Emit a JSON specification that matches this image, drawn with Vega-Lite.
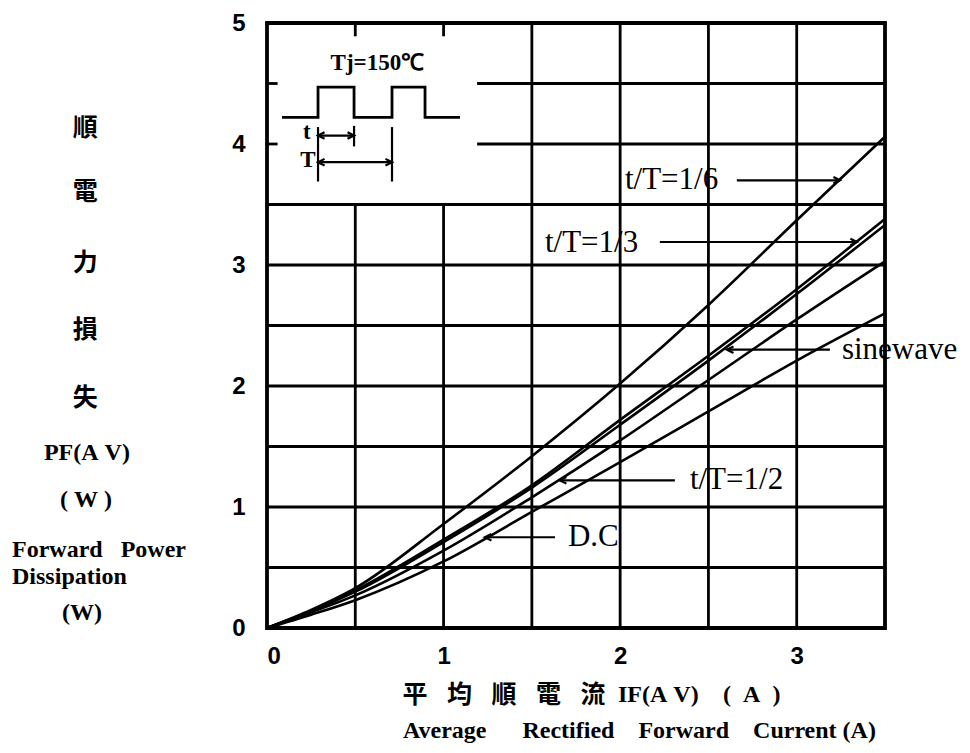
{
  "$schema": "https://vega.github.io/schema/vega-lite/v6.json",
  "width": 618,
  "height": 605,
  "autosize": "none",
  "padding": {"left": 267, "top": 23, "right": 85, "bottom": 125},
  "background": "white",
  "config": {"view": {"stroke": "black", "strokeWidth": 3.8}},
  "datasets": {
    "curves": [
      {"series": "t/T=1/6", "x": 0, "y": 0}, {"series": "t/T=1/6", "x": 0.25, "y": 0.15}, {"series": "t/T=1/6", "x": 0.5, "y": 0.33}, {"series": "t/T=1/6", "x": 1, "y": 0.86}, {"series": "t/T=1/6", "x": 1.5, "y": 1.42}, {"series": "t/T=1/6", "x": 2, "y": 2.02}, {"series": "t/T=1/6", "x": 2.5, "y": 2.67}, {"series": "t/T=1/6", "x": 3, "y": 3.37}, {"series": "t/T=1/6", "x": 3.5, "y": 4.06},
      {"series": "t/T=1/3", "x": 0, "y": 0}, {"series": "t/T=1/3", "x": 0.25, "y": 0.14}, {"series": "t/T=1/3", "x": 0.5, "y": 0.31}, {"series": "t/T=1/3", "x": 1, "y": 0.73}, {"series": "t/T=1/3", "x": 1.5, "y": 1.18}, {"series": "t/T=1/3", "x": 2, "y": 1.72}, {"series": "t/T=1/3", "x": 2.5, "y": 2.25}, {"series": "t/T=1/3", "x": 3, "y": 2.8}, {"series": "t/T=1/3", "x": 3.5, "y": 3.38},
      {"series": "sinewave", "x": 0, "y": 0}, {"series": "sinewave", "x": 0.25, "y": 0.14}, {"series": "sinewave", "x": 0.5, "y": 0.3}, {"series": "sinewave", "x": 1, "y": 0.71}, {"series": "sinewave", "x": 1.5, "y": 1.16}, {"series": "sinewave", "x": 2, "y": 1.68}, {"series": "sinewave", "x": 2.5, "y": 2.21}, {"series": "sinewave", "x": 3, "y": 2.76}, {"series": "sinewave", "x": 3.5, "y": 3.33},
      {"series": "t/T=1/2", "x": 0, "y": 0}, {"series": "t/T=1/2", "x": 0.25, "y": 0.13}, {"series": "t/T=1/2", "x": 0.5, "y": 0.27}, {"series": "t/T=1/2", "x": 1, "y": 0.64}, {"series": "t/T=1/2", "x": 1.5, "y": 1.08}, {"series": "t/T=1/2", "x": 2, "y": 1.55}, {"series": "t/T=1/2", "x": 2.5, "y": 2.05}, {"series": "t/T=1/2", "x": 3, "y": 2.55}, {"series": "t/T=1/2", "x": 3.5, "y": 3.03},
      {"series": "D.C", "x": 0, "y": 0}, {"series": "D.C", "x": 0.25, "y": 0.11}, {"series": "D.C", "x": 0.5, "y": 0.23}, {"series": "D.C", "x": 1, "y": 0.55}, {"series": "D.C", "x": 1.5, "y": 0.96}, {"series": "D.C", "x": 2, "y": 1.37}, {"series": "D.C", "x": 2.5, "y": 1.79}, {"series": "D.C", "x": 3, "y": 2.21}, {"series": "D.C", "x": 3.5, "y": 2.6}
    ],
    "grid": [
      {"x": 0.5, "y": 0, "x2": 0.5, "y2": 3.5}, {"x": 0.5, "y": 5, "x2": 0.5, "y2": 4.89},
      {"x": 1, "y": 0, "x2": 1, "y2": 3.5}, {"x": 1, "y": 5, "x2": 1, "y2": 4.89},
      {"x": 1.5, "y": 0, "x2": 1.5, "y2": 5}, {"x": 2, "y": 0, "x2": 2, "y2": 5},
      {"x": 2.5, "y": 0, "x2": 2.5, "y2": 5}, {"x": 3, "y": 0, "x2": 3, "y2": 5},
      {"x": 0, "y": 0.5, "x2": 3.5, "y2": 0.5}, {"x": 0, "y": 1, "x2": 3.5, "y2": 1},
      {"x": 0, "y": 1.5, "x2": 3.5, "y2": 1.5}, {"x": 0, "y": 2, "x2": 3.5, "y2": 2},
      {"x": 0, "y": 2.5, "x2": 3.5, "y2": 2.5}, {"x": 0, "y": 3, "x2": 3.5, "y2": 3},
      {"x": 0, "y": 3.5, "x2": 3.5, "y2": 3.5},
      {"x": 1.19, "y": 4, "x2": 3.5, "y2": 4}, {"x": 0, "y": 4, "x2": 0.06, "y2": 4},
      {"x": 1.19, "y": 4.5, "x2": 3.5, "y2": 4.5}, {"x": 0, "y": 4.5, "x2": 0.06, "y2": 4.5}
    ],
    "arrows": [
      {"x": 0.289, "y": 4.14, "x2": 0.289, "y2": 3.69},
      {"x": 0.493, "y": 4.15, "x2": 0.493, "y2": 3.98},
      {"x": 0.708, "y": 4.14, "x2": 0.708, "y2": 3.69},
      {"x": 0.289, "y": 4.07, "x2": 0.493, "y2": 4.07},
      {"x": 0.289, "y": 3.85, "x2": 0.708, "y2": 3.85},
      {"x": 2.661, "y": 3.7, "x2": 3.245, "y2": 3.7},
      {"x": 2.225, "y": 3.19, "x2": 3.341, "y2": 3.19},
      {"x": 3.188, "y": 2.3, "x2": 2.605, "y2": 2.3},
      {"x": 2.31, "y": 1.22, "x2": 1.659, "y2": 1.22},
      {"x": 1.631, "y": 0.75, "x2": 1.234, "y2": 0.75}
    ],
    "heads": [
      {"x": 0.289, "y": 4.07, "dir": "left"}, {"x": 0.493, "y": 4.07, "dir": "right"},
      {"x": 0.289, "y": 3.85, "dir": "left"}, {"x": 0.708, "y": 3.85, "dir": "right"},
      {"x": 3.245, "y": 3.7, "dir": "right"}, {"x": 3.341, "y": 3.19, "dir": "right"},
      {"x": 2.605, "y": 2.3, "dir": "left"}, {"x": 1.659, "y": 1.22, "dir": "left"},
      {"x": 1.234, "y": 0.75, "dir": "left"}
    ],
    "wave": [
      {"o": 1, "x": 0.085, "y": 4.22}, {"o": 2, "x": 0.289, "y": 4.22}, {"o": 3, "x": 0.289, "y": 4.47},
      {"o": 4, "x": 0.493, "y": 4.47}, {"o": 5, "x": 0.493, "y": 4.22}, {"o": 6, "x": 0.708, "y": 4.22},
      {"o": 7, "x": 0.708, "y": 4.47}, {"o": 8, "x": 0.895, "y": 4.47}, {"o": 9, "x": 0.895, "y": 4.22},
      {"o": 10, "x": 1.093, "y": 4.22}
    ],
    "curveLabels": [
      {"label": "t/T=1/6", "x": 2.027, "y": 3.7},
      {"label": "t/T=1/3", "x": 1.574, "y": 3.18},
      {"label": "sinewave", "x": 3.256, "y": 2.3},
      {"label": "t/T=1/2", "x": 2.395, "y": 1.22},
      {"label": "D.C", "x": 1.704, "y": 0.75}
    ],
    "insetLabels": [
      {"label": "Tj=150℃", "x": 0.625, "y": 4.67},
      {"label": "t", "x": 0.226, "y": 4.1},
      {"label": "T", "x": 0.232, "y": 3.87}
    ],
    "cjk": [
      {"label": "順", "x": -1.03, "y": 4.13},
      {"label": "電", "x": -1.03, "y": 3.6},
      {"label": "力", "x": -1.03, "y": 3.02},
      {"label": "損", "x": -1.03, "y": 2.46},
      {"label": "失", "x": -1.03, "y": 1.9},
      {"label": "平", "x": 0.838, "y": -0.554},
      {"label": "均", "x": 1.09, "y": -0.554},
      {"label": "順", "x": 1.342, "y": -0.554},
      {"label": "電", "x": 1.594, "y": -0.554},
      {"label": "流", "x": 1.846, "y": -0.554}
    ],
    "serifCenter": [
      {"label": "PF(A\u00a0V)", "x": -1.02, "y": 1.45},
      {"label": "(\u00a0W\u00a0)", "x": -1.025, "y": 1.06},
      {"label": "(W)", "x": -1.048, "y": 0.124}
    ],
    "serifLeft": [
      {"label": "Forward\u00a0\u00a0\u00a0Power", "x": -1.444, "y": 0.645},
      {"label": "Dissipation", "x": -1.444, "y": 0.42},
      {"label": "IF(A\u00a0V)", "x": 1.988, "y": -0.554},
      {"label": "(\u00a0\u00a0A\u00a0\u00a0)", "x": 2.583, "y": -0.554},
      {"label": "Average\u00a0\u00a0\u00a0\u00a0\u00a0\u00a0Rectified\u00a0\u00a0\u00a0\u00a0Forward\u00a0\u00a0\u00a0\u00a0Current\u00a0(A)", "x": 0.77, "y": -0.851}
    ]
  },
  "encoding": {
    "x": {"field": "x", "type": "quantitative", "scale": {"domain": [0, 3.5], "nice": false, "zero": false},
      "axis": {"values": [0, 1, 2, 3], "title": null, "domain": false, "ticks": false, "grid": false,
        "labelFont": "Liberation Sans", "labelFontWeight": "bold", "labelFontSize": 24, "labelColor": "black", "labelPadding": 16}},
    "y": {"field": "y", "type": "quantitative", "scale": {"domain": [0, 5], "nice": false, "zero": false},
      "axis": {"values": [0, 1, 2, 3, 4, 5], "title": null, "domain": false, "ticks": false, "grid": false,
        "labelFont": "Liberation Sans", "labelFontWeight": "bold", "labelFontSize": 24, "labelColor": "black", "labelPadding": 22}}
  },
  "layer": [
    {"data": {"name": "grid"}, "mark": {"type": "rule", "color": "black", "strokeWidth": 2.8},
      "encoding": {"x2": {"field": "x2"}, "y2": {"field": "y2"}}},
    {"data": {"name": "curves"}, "mark": {"type": "line", "color": "black", "strokeWidth": 2.6, "interpolate": "monotone"},
      "encoding": {"detail": {"field": "series"}}},
    {"data": {"name": "wave"}, "mark": {"type": "line", "color": "black", "strokeWidth": 2.8},
      "encoding": {"order": {"field": "o"}}},
    {"data": {"name": "arrows"}, "mark": {"type": "rule", "color": "black", "strokeWidth": 2.2},
      "encoding": {"x2": {"field": "x2"}, "y2": {"field": "y2"}}},
    {"data": {"name": "heads"}, "mark": {"type": "point", "filled": false, "stroke": "black", "strokeWidth": 2.2, "size": 170, "opacity": 1},
      "encoding": {"shape": {"field": "dir", "type": "nominal", "legend": null,
        "scale": {"domain": ["right", "left"], "range": ["M-1,-0.5L0,0L-1,0.5", "M1,-0.5L0,0L1,0.5"]}}}},
    {"data": {"name": "curveLabels"}, "mark": {"type": "text", "align": "left", "baseline": "middle", "font": "Liberation Serif", "fontSize": 31, "color": "black"},
      "encoding": {"text": {"field": "label"}}},
    {"data": {"name": "insetLabels"}, "mark": {"type": "text", "align": "center", "baseline": "middle", "font": "Liberation Serif", "fontWeight": "bold", "fontSize": 23, "color": "black"},
      "encoding": {"text": {"field": "label"}}},
    {"data": {"name": "cjk"}, "mark": {"type": "text", "align": "center", "baseline": "middle", "font": "Noto Sans CJK TC", "fontWeight": "bold", "fontSize": 25, "color": "black"},
      "encoding": {"text": {"field": "label"}}},
    {"data": {"name": "serifCenter"}, "mark": {"type": "text", "align": "center", "baseline": "middle", "font": "Liberation Serif", "fontWeight": "bold", "fontSize": 24, "color": "black"},
      "encoding": {"text": {"field": "label"}}},
    {"data": {"name": "serifLeft"}, "mark": {"type": "text", "align": "left", "baseline": "middle", "font": "Liberation Serif", "fontWeight": "bold", "fontSize": 24, "color": "black"},
      "encoding": {"text": {"field": "label"}}}
  ]
}
